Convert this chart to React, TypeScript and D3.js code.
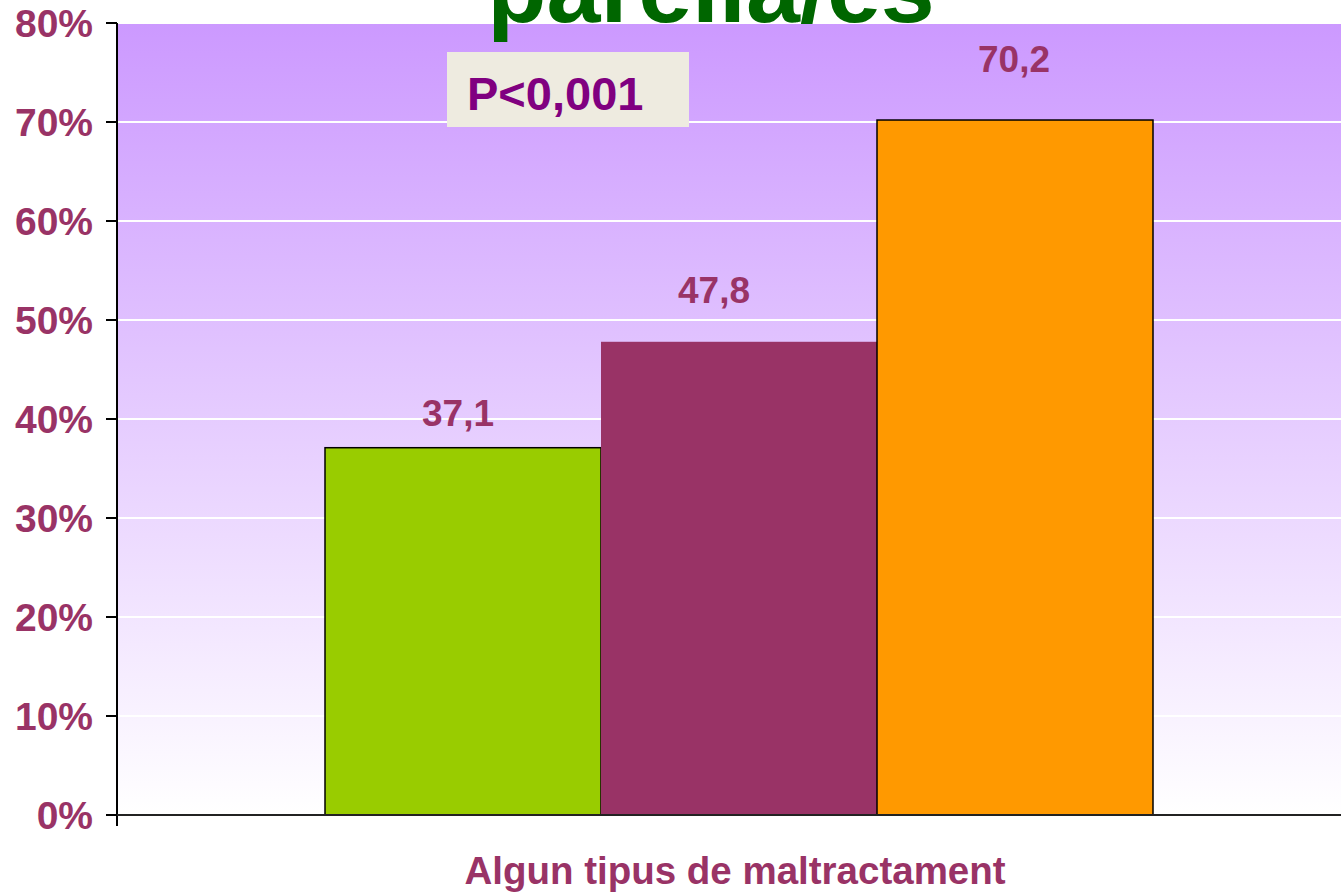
import React from "react";
import * as d3 from "d3";

const categories = ["Algun tipus de maltractament"];
const seriesNames = ["Grup 1", "Grup 2", "Grup 3"];
const seriesValues = [37.1, 47.8, 70.2];
const seriesColors = ["#99CC00", "#993366", "#FF9900"];
const seriesStroke = ["#000000", "none", "#000000"];
const valueLabels = ["37,1", "47,8", "70,2"];
const labelLift = [22, 39, 48];
const labelShift = [-5, -25, -1];
const yTicks = [0, 10, 20, 30, 40, 50, 60, 70, 80];
const titleText = "parella/es";
const pText = "P<0,001";

const W = 1341;
const H = 893;
const FONT = "'Liberation Sans', Arial, Helvetica, sans-serif";

export default function App() {
  const left = 118;
  const right = 1360;
  const top = 23;
  const bottom = 815;

  const y = d3.scaleLinear().domain([0, 80]).range([bottom, top]);
  const x0 = d3
    .scaleBand<string>()
    .domain(categories)
    .range([left, right])
    .paddingInner(0)
    .paddingOuter(0.25);
  const x1 = d3
    .scaleBand<string>()
    .domain(seriesNames)
    .range([0, x0.bandwidth()])
    .padding(0);

  const labelColor = "#993366";

  return (
    <svg
      width={W}
      height={H}
      style={{ position: "absolute", left: 0, top: 0, background: "#fff" }}
    >
      <defs>
        <linearGradient id="bg" x1="0" y1="0" x2="0" y2="1">
          <stop offset="0%" stopColor="#CC99FF" />
          <stop offset="100%" stopColor="#FFFFFF" />
        </linearGradient>
      </defs>
      <rect x={left} y={top} width={W - left} height={bottom - top} fill="url(#bg)" />
      {yTicks
        .filter((t) => t > 0)
        .map((t) => (
          <line
            key={"g" + t}
            x1={left}
            x2={W}
            y1={y(t)}
            y2={y(t)}
            stroke="#FFFFFF"
            strokeWidth={2}
          />
        ))}
      {categories.map((c) => (
        <g key={c} transform={`translate(${x0(c)},0)`}>
          {seriesNames.map((s, i) => (
            <rect
              key={s}
              x={x1(s)}
              y={y(seriesValues[i])}
              width={x1.bandwidth()}
              height={y(0) - y(seriesValues[i])}
              fill={seriesColors[i]}
              stroke={seriesStroke[i]}
              strokeWidth={1.5}
            />
          ))}
          {seriesNames.map((s, i) => (
            <text
              key={"l" + s}
              x={(x1(s) as number) + x1.bandwidth() / 2 + labelShift[i]}
              y={y(seriesValues[i]) - labelLift[i]}
              textAnchor="middle"
              fontFamily={FONT}
              fontWeight="bold"
              fontSize={37}
              fill={labelColor}
            >
              {valueLabels[i]}
            </text>
          ))}
        </g>
      ))}
      {/* axes */}
      <line x1={117} x2={117} y1={top} y2={bottom + 11} stroke="#000" strokeWidth={2} />
      <line x1={106} x2={W} y1={bottom} y2={bottom} stroke="#222" strokeWidth={2} />
      {yTicks.map((t) => (
        <g key={"t" + t}>
          <line x1={106} x2={117} y1={y(t)} y2={y(t)} stroke="#000" strokeWidth={2} />
          <text
            x={93}
            y={y(t)}
            dy="0.36em"
            textAnchor="end"
            fontFamily={FONT}
            fontWeight="bold"
            fontSize={39}
            fill={labelColor}
          >
            {t + "%"}
          </text>
        </g>
      ))}
      <text
        x={735}
        y={884}
        textAnchor="middle"
        fontFamily={FONT}
        fontWeight="bold"
        fontSize={38.5}
        fill={labelColor}
      >
        {categories[0]}
      </text>
      {/* title */}
      <text
        x={711}
        y={22}
        textAnchor="middle"
        fontFamily={FONT}
        fontWeight="bold"
        fontSize={97}
        fill="#006600"
      >
        {titleText}
      </text>
      {/* p value box */}
      <rect x={447} y={52} width={242} height={75} fill="#EEEBE0" />
      <text
        x={467}
        y={110}
        fontFamily={FONT}
        fontWeight="bold"
        fontSize={47}
        fill="#800080"
      >
        {pText}
      </text>
    </svg>
  );
}
